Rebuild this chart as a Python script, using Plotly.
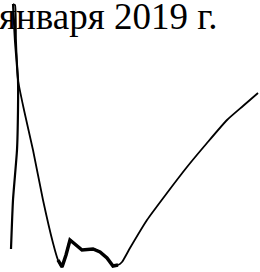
import plotly.graph_objects as go

# Date label text
date_label = "января 2019 г."

# Signature strokes (pixel-like coordinates, y downwards)
left_x = [11, 13, 17, 18, 18, 15, 13]
left_y = [249, 200, 150, 110, 80, 40, 4]

main_x = [13, 15, 16, 18, 24, 33, 43, 53, 58, 62, 66, 70, 76, 82, 93, 100, 107, 113, 118, 122, 130, 147, 167, 187, 207, 227, 243, 258]
main_y = [4, 5, 40, 80, 110, 150, 200, 243, 260, 267, 255, 240, 245, 250, 249, 252, 258, 266, 265, 262, 248, 220, 193, 167, 143, 120, 106, 93]

thick_x = [58, 62, 66, 70, 76, 82, 93, 100, 107, 113, 118]
thick_y = [260, 267, 255, 240, 245, 250, 249, 252, 258, 266, 265]

fig = go.Figure()
fig.add_trace(go.Scatter(x=left_x, y=left_y, mode="lines",
                         line=dict(color="black", width=2.2, shape="spline", smoothing=0.5),
                         hoverinfo="skip"))
fig.add_trace(go.Scatter(x=main_x, y=main_y, mode="lines",
                         line=dict(color="black", width=1.8, shape="spline", smoothing=0.5),
                         hoverinfo="skip"))
fig.add_trace(go.Scatter(x=thick_x, y=thick_y, mode="lines",
                         line=dict(color="black", width=3.5),
                         hoverinfo="skip"))
fig.add_annotation(x=220, y=1, xref="x", yref="paper", xanchor="right", yanchor="top",
                   yshift=6, text=date_label, showarrow=False,
                   font=dict(family="Liberation Serif", size=37, color="black"))
fig.update_layout(width=260, height=272, margin=dict(l=0, r=0, t=0, b=0),
                  paper_bgcolor="white", plot_bgcolor="white", showlegend=False,
                  xaxis=dict(range=[0, 260], visible=False),
                  yaxis=dict(range=[272, 0], visible=False))
fig.write_html("out.html", config={"displayModeBar": False},
               post_script="document.body.style.margin='0';")
